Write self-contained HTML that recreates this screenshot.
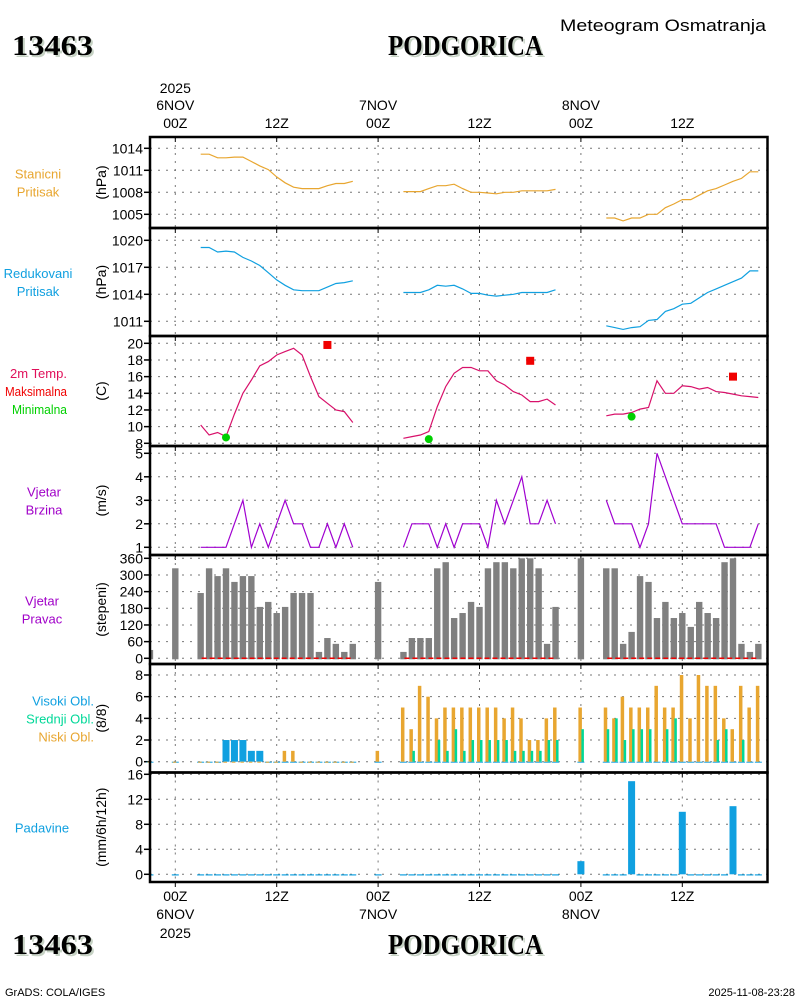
<!DOCTYPE html>
<html><head><meta charset="utf-8">
<style>
html,body{margin:0;padding:0;background:#fff;}
svg{display:block;}
text{font-family:"Liberation Sans",sans-serif;}
.tk{font-size:14px;fill:#000;}
.big{font-family:"Liberation Serif",serif;font-weight:bold;font-size:28px;}
</style></head>
<body>
<svg id="chart" width="800" height="1000" viewBox="0 0 800 1000" xmlns="http://www.w3.org/2000/svg">
<g>
<text x="560" y="31" font-size="17" textLength="206" lengthAdjust="spacingAndGlyphs">Meteogram Osmatranja</text>
<text x="14" y="57" class="big" fill="#c6d2c4" textLength="81" lengthAdjust="spacingAndGlyphs">13463</text>
<text x="12" y="55" class="big" fill="#000" textLength="81" lengthAdjust="spacingAndGlyphs">13463</text>
<text x="390" y="57" class="big" fill="#c6d2c4" textLength="155" lengthAdjust="spacingAndGlyphs">PODGORICA</text>
<text x="388" y="55" class="big" fill="#000" textLength="155" lengthAdjust="spacingAndGlyphs">PODGORICA</text>
<text x="14" y="956" class="big" fill="#c6d2c4" textLength="81" lengthAdjust="spacingAndGlyphs">13463</text>
<text x="12" y="954" class="big" fill="#000" textLength="81" lengthAdjust="spacingAndGlyphs">13463</text>
<text x="390" y="956" class="big" fill="#c6d2c4" textLength="155" lengthAdjust="spacingAndGlyphs">PODGORICA</text>
<text x="388" y="954" class="big" fill="#000" textLength="155" lengthAdjust="spacingAndGlyphs">PODGORICA</text>
<text x="5" y="996" font-size="11">GrADS: COLA/IGES</text>
<text x="795" y="996" font-size="11" text-anchor="end">2025-11-08-23:28</text>
</g>
<g id="grid"></g>
<g id="marks"></g>
<g id="frames"></g>
<g id="labels"></g>
</svg>
<script>
// ---- data (hourly, hours since 2025-11-06 00Z) ----
const lineHours = [3,4,5,6,7,8,9,10,11,12,13,14,15,16,17,18,19,20,21,null,27,28,29,30,31,32,33,34,35,36,37,38,39,40,41,42,43,44,45,null,51,52,53,54,55,56,57,58,59,60,61,62,63,64,65,66,67,68,69];
const stationP = [1013.2,1013.2,1012.7,1012.7,1012.8,1012.8,1012.2,1011.6,1011.1,1010.1,1009.3,1008.7,1008.5,1008.5,1008.5,1008.9,1009.2,1009.2,1009.5,null,1008.1,1008.1,1008.1,1008.5,1008.9,1008.9,1009.1,1008.5,1008.0,1008.0,1007.9,1007.8,1008.0,1008.0,1008.2,1008.2,1008.2,1008.2,1008.4,null,1004.5,1004.5,1004.1,1004.5,1004.5,1005.0,1005.0,1005.9,1006.4,1007.0,1007.0,1007.6,1008.2,1008.5,1009.0,1009.5,1009.9,1010.8,1010.8];
const reducedP = [1019.2,1019.2,1018.7,1018.8,1018.7,1018.1,1017.7,1017.2,1016.4,1015.6,1015.0,1014.5,1014.4,1014.4,1014.4,1014.8,1015.2,1015.3,1015.5,null,1014.2,1014.2,1014.2,1014.5,1015.0,1014.9,1015.0,1014.6,1014.1,1014.1,1013.9,1013.8,1013.9,1014.0,1014.2,1014.2,1014.2,1014.2,1014.5,null,1010.5,1010.3,1010.1,1010.3,1010.4,1011.1,1011.2,1012.1,1012.4,1012.9,1013.0,1013.6,1014.2,1014.6,1015.0,1015.4,1015.8,1016.6,1016.6];
const temp2m = [10.2,9.0,9.3,8.8,11.5,14.0,15.6,17.3,17.8,18.6,19.0,19.4,18.6,16.0,13.6,12.8,12.0,11.8,10.5,null,8.6,8.8,9.0,9.4,12.4,14.8,16.4,17.1,17.1,16.7,16.7,15.5,15.0,14.2,13.8,13.0,13.0,13.3,12.6,null,11.3,11.5,11.5,11.7,12.1,12.3,15.5,14.0,14.0,14.9,14.8,14.5,14.7,14.2,14.1,13.9,13.7,13.6,13.5];
const windSpeed = [1,1,1,1,2,3,1,2,1,2,3,2,2,1,1,2,1,2,1,null,1,2,2,2,1,2,1,2,2,2,1,3,2,3,4,2,2,3,2,null,3,2,2,2,1,2,5,4,3,2,2,2,2,2,1,1,1,1,2];
const maxHours = [18,42,66];
const maxTemp = [19.8,17.9,16.0];
const minHours = [6,30,54];
const minTemp = [8.7,8.5,11.2];
const barHours = [-3,0,3,4,5,6,7,8,9,10,11,12,13,14,15,16,17,18,19,20,21,24,27,28,29,30,31,32,33,34,35,36,37,38,39,40,41,42,43,44,45,48,51,52,53,54,55,56,57,58,59,60,61,62,63,64,65,66,67,68,69];
const windDir = [30,324,235,324,296,324,275,296,296,185,203,163,185,235,235,235,23,73,52,23,52,275,23,73,73,73,324,346,145,163,203,185,324,346,346,324,360,360,324,52,185,360,324,324,52,95,296,275,145,203,145,163,113,203,163,145,346,360,52,23,52];
const lowCloud = [0,0,0,0,0,0,0,0,0,0,0,0,1,1,0,0,0,0,0,0,0,1,5,3,7,6,4,5,5,5,5,5,5,5,4,5,4,2,2,4,5,5,5,4,6,5,5,5,7,5,5,8,4,8,7,7,4,3,7,5,7];
const midCloud = [0,0,0,0,0,0,0,0,0,0,0,0,0,0,0,0,0,0,0,0,0,0,0,1,0,0,2,1,3,1,2,2,2,2,2,1,1,1,1,2,2,3,3,4,2,3,3,3,0,3,4,0,0,0,0,2,3,0,2,0,0];
const highCloud = [0,0,0,0,0,2,2,2,1,1,0,0,0,0,0,0,0,0,0,0,0,0,0,0,0,0,0,0,0,0,0,0,0,0,0,0,0,0,0,0,0,0,0,0,0,0,0,0,0,0,0,0,0,0,0,0,0,0,0,0,0];
const precip = [0,0,0,0,0,0,0,0,0,0,0,0,0,0,0,0,0,0,0,0,0,0,0,0,0,0,0,0,0,0,0,0,0,0,0,0,0,0,0,0,0,2.1,0,0,0,14.9,0,0,0,0,0,10.0,0,0,0,0,0,10.9,0,0,0];
const calmSegments = [[3,21],[27,45],[51,69]];
const tickStation = [1014,1011,1008,1005];
const tickReduced = [1020,1017,1014,1011];
const tickTemp = [20,18,16,14,12,10,8];
const tickWind = [5,4,3,2,1];
const tickDir = [360,300,240,180,120,60,0];
const tickCloud = [8,6,4,2,0];
const tickPrecip = [16,12,8,4,0];
const timeTicks = [0,12,24,36,48,60];
const timeTickLabels = ["00Z","12Z","00Z","12Z","00Z","12Z"];
const dayLabels = ["6NOV","","7NOV","","8NOV",""];

// ---- axes ----
const X0 = 150, X1 = 767.5;
const xh = h => 175.3 + 8.45 * h;
function lin(v0, y0, v1, y1) { return v => y0 + (v - v0) * (y1 - y0) / (v1 - v0); }
const panels = [
  {key:'station', top:137, bot:228, y:lin(1014,148.3,1005,214.3), ticks:tickStation, unit:'(hPa)', lx:38, anchor:'middle', labels:[['Stanicni','#e8a630'],['Pritisak','#e8a630']]},
  {key:'reduced', top:228, bot:336, y:lin(1020,240.3,1011,321.3), ticks:tickReduced, unit:'(hPa)', lx:38, anchor:'middle', labels:[['Redukovani','#10a0e0'],['Pritisak','#10a0e0']]},
  {key:'temp', top:336, bot:446, y:lin(20,343.3,8,443.3), ticks:tickTemp, unit:'(C)', lx:67, anchor:'end', labels:[['2m Temp.','#e0105a',57],['Maksimalna','#f00000',62],['Minimalna','#00d000',55]]},
  {key:'wind', top:446, bot:555, y:lin(5,453.3,1,547.3), ticks:tickWind, unit:'(m/s)', lx:44, anchor:'middle', labels:[['Vjetar','#a000c8'],['Brzina','#a000c8']]},
  {key:'dir', top:555, bot:664, y:lin(0,658.3,360,558.3), ticks:tickDir, unit:'(stepeni)', lx:42, anchor:'middle', labels:[['Vjetar','#a000c8'],['Pravac','#a000c8']]},
  {key:'cloud', top:664, bot:772.5, y:lin(8,675,0,761.7), ticks:tickCloud, unit:'(8/8)', lx:94, anchor:'end', labels:[['Visoki Obl.','#10a0e0'],['Srednji Obl.','#00d898'],['Niski Obl.','#e8a630']]},
  {key:'precip', top:772.5, bot:882, y:lin(16,774.3,0,874.3), ticks:tickPrecip, unit:'(mm/6h/12h)', lx:42, anchor:'middle', labels:[['Padavine','#10a0e0']]}
];
const NS = 'http://www.w3.org/2000/svg';
function mk(tag, attrs, parent) {
  const e = document.createElementNS(NS, tag);
  for (const k in attrs) e.setAttribute(k, attrs[k]);
  parent.appendChild(e);
  return e;
}
const G = document.getElementById('grid'), M = document.getElementById('marks'), F = document.getElementById('frames'), L = document.getElementById('labels');

panels.forEach(p => {
  timeTicks.forEach(h => {
    const g = mk('line', {x1:xh(h), x2:xh(h), y1:p.top, y2:p.bot, stroke:'#777', 'stroke-width':1, 'stroke-dasharray':'2,6'}, G);
    
    
    const t = mk('line', {x1:xh(h), x2:xh(h), y1:p.top, y2:p.top+5, stroke:'#000', 'stroke-width':1}, G);
    
    
  });
  p.ticks.forEach(v => {
    const y = p.y(v);
    const g = mk('line', {x1:X0, x2:X1, y1:y, y2:y, stroke:'#777', 'stroke-width':1, 'stroke-dasharray':'2,6'}, G);
    
    
    const tk = mk('line', {x1:X0-6, x2:X0, y1:y, y2:y, stroke:'#000', 'stroke-width':1.5}, G);
    
    
    const tl = mk('text', {x:X0-7, y:y+5, 'text-anchor':'end', class:'tk'}, L);
    tl.textContent = v;
    
    
  });
  const fr = mk('rect', {x:X0, y:p.top, width:X1-X0, height:p.bot-p.top, fill:'none', stroke:'#000', 'stroke-width':2.5}, F);
  
  
  const cy = (p.top + p.bot) / 2;
  const u = mk('text', {x:0, y:0, 'text-anchor':'middle', 'font-size':14, transform:'translate(106,'+cy+') rotate(-90)'}, L);
  u.textContent = p.unit;
  
  
  const n = p.labels.length;
  p.labels.forEach((lb, i) => {
    const t = mk('text', {x:p.lx, y:cy - (n-1)*9 + i*18 + 5, 'text-anchor':p.anchor, 'font-size':13, fill:lb[1]}, L);
    if (lb[2]) { t.setAttribute('textLength', lb[2]); t.setAttribute('lengthAdjust', 'spacingAndGlyphs'); }
    t.textContent = lb[0];
    
    
  });
});
timeTicks.forEach((h, i) => {
  const t1 = mk('text', {x:xh(h), y:128, 'text-anchor':'middle', class:'tk', 'font-size':15}, L);
  t1.textContent = timeTickLabels[i];
  
  
  const t2 = mk('text', {x:xh(h), y:901, 'text-anchor':'middle', class:'tk', 'font-size':15}, L);
  t2.textContent = timeTickLabels[i];
  
  
  if (dayLabels[i]) {
    const d1 = mk('text', {x:xh(h), y:110, 'text-anchor':'middle', class:'tk', 'font-size':15}, L);
    d1.textContent = dayLabels[i];
    
    
    const d2 = mk('text', {x:xh(h), y:919, 'text-anchor':'middle', class:'tk', 'font-size':15}, L);
    d2.textContent = dayLabels[i];
    
    
  }
  const bt = mk('line', {x1:xh(h), x2:xh(h), y1:882, y2:887, stroke:'#000', 'stroke-width':1}, G);
  
  
});
const y1 = mk('text', {x:xh(0), y:93, 'text-anchor':'middle', class:'tk', 'font-size':15}, L);
y1.textContent = '2025';


const y2 = mk('text', {x:xh(0), y:938, 'text-anchor':'middle', class:'tk', 'font-size':15}, L);
y2.textContent = '2025';



const P = {}; panels.forEach(p => P[p.key] = p);
function drawLine(vals, panel, color, name) {
  let d = '', pen = false;
  lineHours.forEach((h, i) => {
    const v = vals[i];
    if (h === null || v === null) { pen = false; return; }
    d += (pen ? 'L' : 'M') + xh(h).toFixed(1) + ',' + panel.y(v).toFixed(1);
    pen = true;
  });
  const e = mk('path', {d:d, fill:'none', stroke:color, 'stroke-width':1.2}, M);
  
  
}
drawLine(stationP, P.station, '#e8a630', 'station-pressure-line');
drawLine(reducedP, P.reduced, '#10a0e0', 'reduced-pressure-line');
drawLine(temp2m, P.temp, '#d8106a', 'temperature-line');
drawLine(windSpeed, P.wind, '#a000d0', 'wind-speed-line');
maxHours.forEach((h, i) => {
  const e = mk('rect', {x:xh(h)-4, y:P.temp.y(maxTemp[i])-4, width:8, height:8, fill:'#f00000'}, M);
  
  
});
minHours.forEach((h, i) => {
  const e = mk('circle', {cx:xh(h), cy:P.temp.y(minTemp[i]), r:4, fill:'#00d000'}, M);
  
  
});
barHours.forEach((h, i) => {
  const x = Math.max(X0, xh(h) - 3.2), xr = xh(h) + 3.2;
  const y0 = P.dir.y(0), yv = P.dir.y(windDir[i]);
  const e = mk('rect', {x:x, y:yv, width:xr-x, height:y0-yv+1, fill:'#808080'}, M);
  
  
});
calmSegments.forEach(s => {
  const e = mk('line', {x1:xh(s[0])+1, x2:xh(s[1])+1, y1:P.dir.y(0), y2:P.dir.y(0), stroke:'#f00000', 'stroke-width':1.5, 'stroke-dasharray':'5,3'}, M);
  
  
});
barHours.forEach((h, i) => {
  const y0 = P.cloud.y(0);
  const hv = P.cloud.y(highCloud[i]);
  const e1 = mk('rect', {x:xh(h)-3.5, y:hv, width:7, height:Math.max(1, y0-hv), fill:'#10a0e0'}, M);
  
  
  const lv = P.cloud.y(lowCloud[i]);
  const e2 = mk('rect', {x:xh(h)-2.5, y:lv, width:3.5, height:Math.max(1, y0-lv), fill:'#e8a630'}, M);
  
  
  if (midCloud[i] > 0) {
    const mv = P.cloud.y(midCloud[i]);
    const e3 = mk('rect', {x:xh(h)+0.5, y:mv, width:2.5, height:y0-mv, fill:'#00d898'}, M);
    
    
  }
});
barHours.forEach((h, i) => {
  const y0 = P.precip.y(0), yv = P.precip.y(precip[i]);
  const x = Math.max(X0, xh(h) - 3.5);
  const e = mk('rect', {x:x, y:yv, width:xh(h)+3.5-x, height:Math.max(1.2, y0-yv), fill:'#10a0e0'}, M);
  
  
});
</script>
</body></html>
